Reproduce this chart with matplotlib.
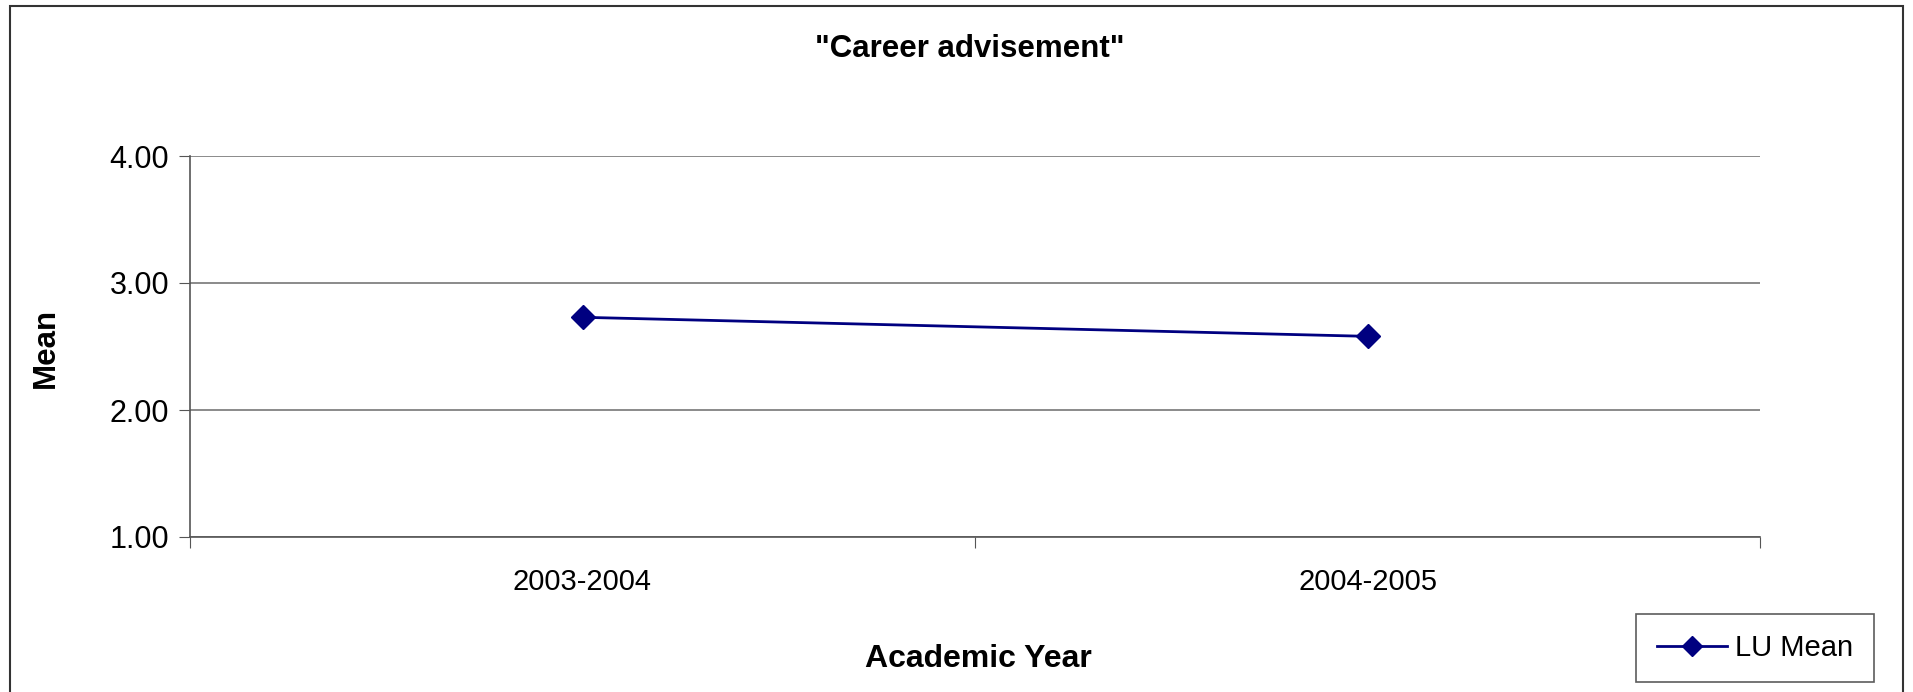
import matplotlib.pyplot as plt
from matplotlib.patches import Rectangle

plt.rcParams['font.family'] = ['Liberation Sans', 'DejaVu Sans']

years = ['2003-2004', '2004-2005']
lu_mean = [2.73, 2.58]
y_ticks = [1.00, 2.00, 3.00, 4.00]

W, H = 1913, 692
fig = plt.figure(figsize=(W / 100, H / 100), dpi=100)

# outer chart border (bottom edge falls off the image)
fig.patches.append(Rectangle((10 / W, -0.01), (1903 - 10) / W, (H - 6) / H + 0.01,
                             transform=fig.transFigure, fill=False,
                             edgecolor='#333333', linewidth=1.5))

left, right, top, bottom = 190, 1760, 156, 537
ax = fig.add_axes([left / W, 1 - bottom / H, (right - left) / W, (bottom - top) / H])

x = [0.5, 1.5]
ax.plot(x, lu_mean, color='#000080', linewidth=2, marker='D', markersize=12,
        label='LU Mean', zorder=3)

ax.set_xlim(0, 2)
ax.set_ylim(1, 4)
ax.set_yticks(y_ticks)
ax.set_yticklabels([f'{v:.2f}' for v in y_ticks], fontsize=22)
ax.set_xticks([0, 1, 2])
ax.set_xticklabels([])
ax.set_xticks(x, minor=True)
ax.set_xticklabels(years, minor=True, fontsize=21)
ax.tick_params(axis='x', which='minor', length=0, pad=22)
ax.tick_params(axis='x', which='major', length=8, direction='out', color='#555555')
ax.tick_params(axis='y', length=8, direction='out', color='#555555', pad=7)

ax.grid(axis='y', color='#777777', linewidth=1.2)
for s in ['top', 'right']:
    ax.spines[s].set_visible(False)
ax.spines['left'].set_color('#555555')
ax.spines['bottom'].set_color('#555555')
ax.spines['left'].set_linewidth(1.2)
ax.spines['bottom'].set_linewidth(1.2)

fig.text(970 / W, 1 - 49 / H, '"Career advisement"', ha='center', va='center',
         fontsize=22.5, fontweight='bold')
fig.text(978 / W, 1 - 659 / H, 'Academic Year', ha='center', va='center',
         fontsize=23, fontweight='bold')
fig.text(46 / W, 1 - 348 / H, 'Mean', ha='center', va='center', rotation=90,
         fontsize=22.5, fontweight='bold')

leg = fig.legend(loc='center', bbox_to_anchor=(1755 / W, 1 - 648 / H), fontsize=21,
                 frameon=True, fancybox=False, edgecolor='#333333',
                 handlelength=2.4, handletextpad=0.3, borderpad=0.7,
                 borderaxespad=0, markerscale=0.85)
leg.get_frame().set_linewidth(1.2)

fig.savefig('out.png', dpi=100)
